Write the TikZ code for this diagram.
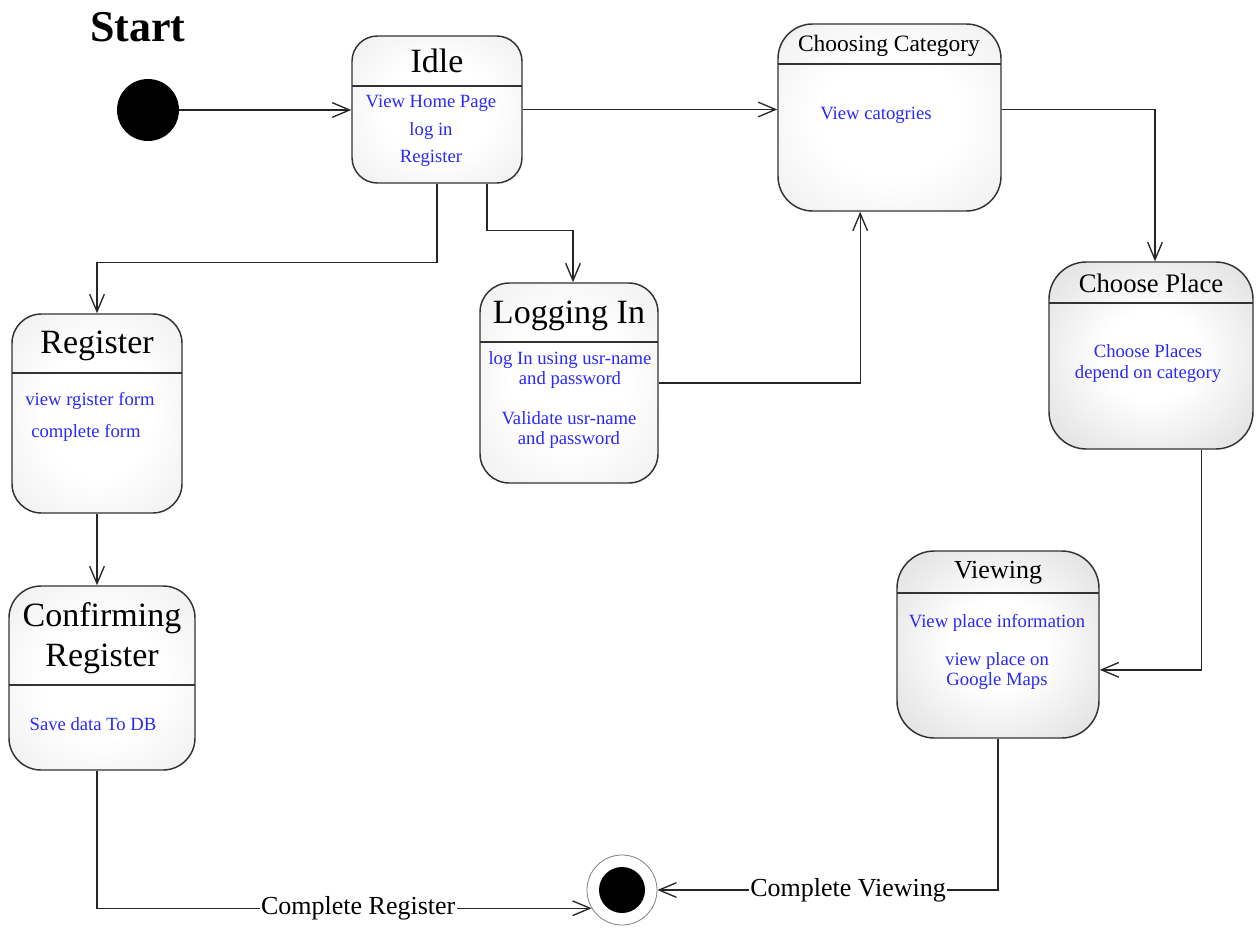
\documentclass[tikz,border=0pt]{standalone}
\usepackage{fontspec}
\setmainfont{Liberation Serif}
\usetikzlibrary{arrows.meta,fit}
\definecolor{actblue}{RGB}{40,40,255}

% soft fill: white in the middle, light grey towards the rim
\pgfdeclareradialshading{statefill}{\pgfpointorigin}{%
  color(0bp)=(white); color(16bp)=(white); color(50bp)=(black!11); color(72bp)=(black!15)}
\pgfdeclareradialshading{statefilldark}{\pgfpointorigin}{%
  color(0bp)=(white); color(12bp)=(white); color(50bp)=(black!21); color(72bp)=(black!27)}

\tikzset{
  statebox/.style={draw=black!80, line width=1.1pt, inner sep=0pt, shading=statefill},
  darkstate/.style={statebox, shading=statefilldark},
  divider/.style={draw=black!80, line width=1.1pt},
  title/.style={text=black, font=\fontsize{25.5}{30}\selectfont, align=center, inner sep=0pt},
  action/.style={text=actblue, font=\fontsize{14}{15}\selectfont, align=center, inner sep=0pt},
  flow/.style={draw=black!85, line width=1pt, -{Straight Barb[length=13pt,width=11pt]}},
  flowlabel/.style={fill=white, inner sep=1pt, font=\fontsize{19.5}{22}\selectfont, text=black},
}

\begin{document}
\begin{tikzpicture}[x=0.75pt,y=-0.75pt]
\useasboundingbox[fill=white] (0,0) rectangle (1257,932);

% ---- initial state
\node[font=\bfseries\fontsize{33}{36}\selectfont, inner sep=0pt] (startlabel) at (138,27) {Start};
\node[circle, fill=black, minimum size=46.5pt, inner sep=0pt] (start) at (148,110) {};

% ---- Idle
\node[statebox, rounded corners=19pt, fit={(352,36)(522,183)}] (idle) {};
\draw[divider] (352,86) -- (522,86);
\node[title] (idleT) at (437,61) {Idle};
\node[action, font=\fontsize{14}{20.6}\selectfont] (idleB) at (431,131) {View Home Page\\log in\\Register};

% ---- Choosing Category
\node[statebox, rounded corners=26pt, fit={(778,24)(1001,211)}] (choosing) {};
\draw[divider] (778,64) -- (1001,64);
\node[title, font=\fontsize{17.6}{20}\selectfont] (choosingT) at (889,46) {Choosing Category};
\node[action] (choosingB) at (876,115) {View catogries};

% ---- Logging In
\node[statebox, rounded corners=22pt, fit={(480,283)(658,483)}] (login) {};
\draw[divider] (480,342) -- (658,342);
\node[title] (loginT) at (569,316) {Logging In};
\node[action] (loginB1) at (570,370) {log In using usr-name\\and password};
\node[action] (loginB2) at (569,430) {Validate usr-name\\and password};

% ---- Register
\node[statebox, rounded corners=22pt, fit={(12,314)(182,513)}] (register) {};
\draw[divider] (12,373) -- (182,373);
\node[title] (registerT) at (97,346) {Register};
\node[action] (registerB1) at (90,401) {view rgister form};
\node[action] (registerB2) at (86,433) {complete form};

% ---- Confirming Register
\node[statebox, rounded corners=24pt, fit={(9,586)(195,770)}] (confirm) {};
\draw[divider] (9,685) -- (195,685);
\node[title] (confirmT) at (102,638) {Confirming\\Register};
\node[action] (confirmB) at (93,724) {Save data To DB};

% ---- Choose Place
\node[darkstate, rounded corners=28pt, fit={(1049,262)(1253,449)}] (place) {};
\draw[divider] (1049,303) -- (1253,303);
\node[title, font=\fontsize{20}{22}\selectfont] (placeT) at (1151,283) {Choose Place};
\node[action, font=\fontsize{14}{15.75}\selectfont] (placeB) at (1148,364) {Choose Places\\depend on category};

% ---- Viewing
\node[darkstate, rounded corners=28pt, fit={(897,551)(1099,738)}] (view) {};
\draw[divider] (897,593) -- (1099,593);
\node[title, font=\fontsize{19.5}{22}\selectfont] (viewT) at (998,573) {Viewing};
\node[action] (viewB1) at (997,623) {View place information};
\node[action] (viewB2) at (997,671) {view place on\\Google Maps};

% ---- final state
\node[circle, draw=black!50, line width=0.6pt, fill=white, minimum size=52.5pt, inner sep=0pt] (final) at (622,890) {};
\node[circle, fill=black, minimum size=34.5pt, inner sep=0pt] (finaldot) at (final.center) {};

% ---- transitions
\draw[flow] (start) -- (idle.west |- start);
\draw[flow] (idle.east) -- (choosing.west |- idle.east);
\draw[flow] (idle.south) -- ++(0,79) -| (register.north);
\draw[flow] ([xshift=37.5pt]idle.south) -- ++(0,47) -| ([xshift=3pt]login.north);
\draw[flow] (login.east) -| ([xshift=-22pt]choosing.south);
\draw[flow] (choosing.east |- idle.east) -| ([xshift=3pt]place.north);
\draw[flow] ([xshift=38pt]place.south) |- ([yshift=-19pt]view.east);
\draw[flow] (register.south) -- (register.south |- confirm.north);
\draw[flow] (confirm.south -| register.south) |- (final.211)
  node[flowlabel, pos=0.764] {Complete Register};
\draw[flow] (view.south) |- (final.east)
  node[flowlabel, pos=0.72] {Complete Viewing};
\end{tikzpicture}
\end{document}
